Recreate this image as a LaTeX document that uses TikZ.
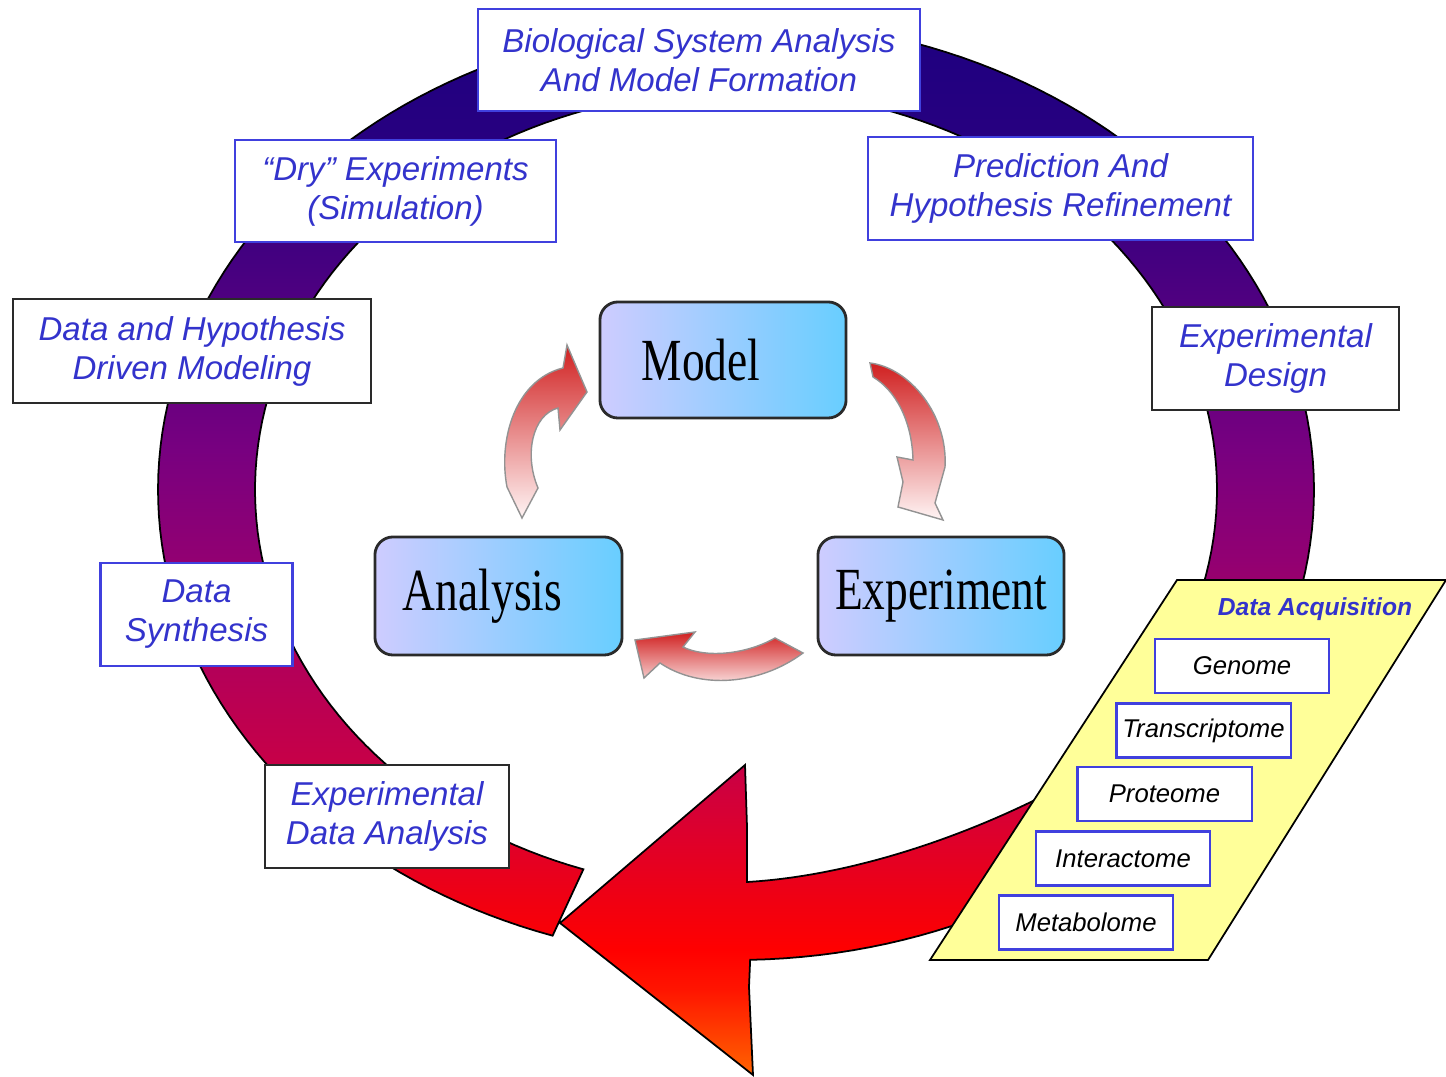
\documentclass[tikz,border=0pt]{standalone}
\usepackage{fontspec}
\setmainfont{Liberation Serif}
\newfontfamily\lblfont{Liberation Sans}
\usepackage{graphicx}

% colours of the ring, from bottom (orange) to top (indigo)
\definecolor{rfA}{HTML}{FF6600}
\definecolor{rfB}{HTML}{FF4400}
\definecolor{rfC}{HTML}{FF1500}
\definecolor{rfD}{HTML}{FF0000}
\definecolor{rfE}{HTML}{F00012}
\definecolor{rfF}{HTML}{DC002E}
\definecolor{rfG}{HTML}{C60048}
\definecolor{rfH}{HTML}{B0005C}
\definecolor{rfI}{HTML}{920072}
\definecolor{rfJ}{HTML}{780080}
\definecolor{rfK}{HTML}{5C0080}
\definecolor{rfL}{HTML}{420080}
\definecolor{rfM}{HTML}{280080}
\definecolor{rfN}{HTML}{1C0080}
\pgfdeclareverticalshading{ringfade}{100bp}{%
  color(0bp)=(rfA); color(25bp)=(rfA); color(26.72bp)=(rfB);
  color(29.04bp)=(rfC); color(30.9bp)=(rfD); color(33.22bp)=(rfE);
  color(36.47bp)=(rfF); color(39.72bp)=(rfG); color(44.82bp)=(rfH);
  color(49bp)=(rfI); color(54.11bp)=(rfJ); color(58.75bp)=(rfK);
  color(63.39bp)=(rfL); color(68.04bp)=(rfM); color(75bp)=(rfN);
  color(100bp)=(rfN)}

\definecolor{txtblue}{RGB}{51,51,204}
\definecolor{lineblue}{RGB}{64,64,222}
\definecolor{boxleft}{RGB}{206,204,255}
\definecolor{boxright}{RGB}{104,206,255}
\definecolor{boxedge}{RGB}{42,42,42}
\definecolor{cycred}{RGB}{208,32,32}
\definecolor{acqyellow}{RGB}{255,255,153}

\tikzset{
  lbox/.style={draw=#1, line width=0.7pt, fill=white, inner sep=0pt,
    align=center, text=txtblue,
    font=\lblfont\itshape\fontsize{9.4}{11.1}\selectfont},
  stagebox/.style={draw=boxedge, line width=0.8pt, rounded corners=0.18cm,
    left color=boxleft, right color=boxright, inner sep=0pt,
    font=\fontsize{17}{20}\selectfont},
  omebox/.style={draw=lineblue, line width=0.6pt, fill=white, inner sep=0pt,
    minimum width=1.74cm, minimum height=0.54cm,
    font=\lblfont\itshape\fontsize{7.3}{9}\selectfont},
  cyc/.style={draw=gray!85, line width=0.4pt, top color=cycred, bottom color=white!96!red},
  ringedge/.style={draw=black, line width=0.5pt}
}

\begin{document}
\begin{tikzpicture}[x=0.01cm,y=-0.01cm]
\useasboundingbox (0,0) rectangle (1446,1077);
\fill[white] (0,0) rectangle (1446,1077);

% the big cycle: an elliptic band that ends in a broad arrow head
\draw[ringedge, path picture={\shade[shading=ringfade] (0,0) rectangle (1446,1077);}]
  (560,923) -- (745,765) -- (747,827) -- (747,882)
  .. controls (850,876) and (960,838) .. (1045,795)
  -- plot[domain=30:-251.5, samples=160, variable=\t]
       ({736+481*cos(\t)},{490+400*sin(\t)})
  -- plot[domain=108.5:448.6, samples=200, variable=\t]
       ({736+578*cos(\t)},{490+470*sin(\t)})
  -- (749,987) -- (753,1075) -- cycle;

% data acquisition panel
\filldraw[fill=acqyellow, draw=black, line width=0.5pt]
  (1177,580) -- (1446,580) -- (1208,960) -- (930,960) -- cycle;
\node[text=txtblue, font=\lblfont\bfseries\itshape\fontsize{7}{8}\selectfont]
  (acq) at (1315,609) {Data Acquisition};
\node[omebox] (genome)   at (1242,666)   {Genome};
\node[omebox] (transcr)  at (1203.5,730.5) {Transcriptome};
\node[omebox] (proteome) at (1164.5,794) {Proteome};
\node[omebox] (interact) at (1123,858.5) {Interactome};
\node[omebox] (metab)    at (1086,922.5) {Metabolome};

% labelled steps around the cycle
\node[lbox=lineblue, minimum width=4.42cm, minimum height=1.02cm] (bsa) at (699,60)
  {Biological System Analysis\\And Model Formation};
\node[lbox=lineblue, minimum width=3.85cm, minimum height=1.03cm] (pred) at (1060.5,188.5)
  {Prediction And\\Hypothesis Refinement};
\node[lbox=boxedge, minimum width=2.47cm, minimum height=1.03cm] (design) at (1275.5,358.5)
  {Experimental\\Design};
\node[lbox=boxedge, minimum width=2.44cm, minimum height=1.03cm] (eda) at (387,816.5)
  {Experimental\\Data Analysis};
\node[lbox=lineblue, minimum width=1.92cm, minimum height=1.03cm] (synth) at (196.5,614.5)
  {Data\\Synthesis};
\node[lbox=boxedge, minimum width=3.58cm, minimum height=1.04cm] (dhm) at (192,351)
  {Data and Hypothesis\\Driven Modeling};
\node[lbox=lineblue, minimum width=3.21cm, minimum height=1.02cm] (dry) at (395.5,191)
  {“Dry” Experiments\\(Simulation)};

% inner cycle
\node[stagebox, minimum width=2.46cm, minimum height=1.16cm] (model) at (723,360)
  {\scalebox{0.76}[1]{Model}\hspace*{0.44cm}};
\node[stagebox, minimum width=2.47cm, minimum height=1.18cm] (analysis) at (498.5,596)
  {\scalebox{0.76}[1]{Analysis}\hspace*{0.32cm}};
\node[stagebox, minimum width=2.46cm, minimum height=1.18cm] (experiment) at (941,596)
  {\scalebox{0.76}[1]{Experiment}};

% curved block arrows of the inner cycle
\path[cyc] (522,518) -- (507,487) .. controls (498,440) and (515,380) .. (563,368)
  -- (567,345) -- (587,392) -- (560,430) -- (558,408)
  .. controls (532,415) and (524,455) .. (538,488) -- cycle;
\path[cyc] (870,363) .. controls (910,368) and (948,415) .. (945,467)
  -- (935,503) -- (943,520) -- (898,507) -- (903,482) -- (897,457) -- (913,460)
  .. controls (912,420) and (895,390) .. (873,377) -- cycle;
\path[cyc] (775,638) .. controls (745,655) and (705,658) .. (683,647)
  -- (695,632) -- (635,640) -- (644,678) -- (660,663)
  .. controls (700,690) and (760,685) .. (803,653) -- cycle;
\end{tikzpicture}
\end{document}
